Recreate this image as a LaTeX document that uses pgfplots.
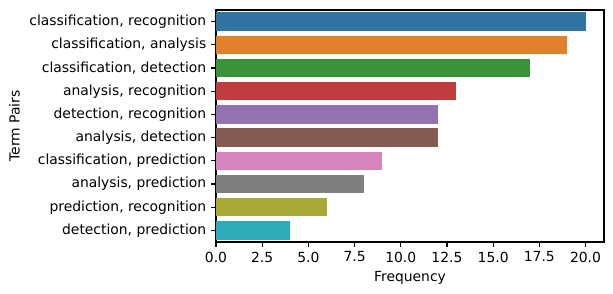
\documentclass[border=0pt]{standalone}
\usepackage{pgfplots}
\pgfplotsset{compat=1.18}
\usepackage{fontspec}
\setmainfont{DejaVu Sans}
\definecolor{c0}{HTML}{3274A1}
\definecolor{c1}{HTML}{E1812C}
\definecolor{c2}{HTML}{3A923A}
\definecolor{c3}{HTML}{C03D3E}
\definecolor{c4}{HTML}{9372B2}
\definecolor{c5}{HTML}{845B53}
\definecolor{c6}{HTML}{D684BD}
\definecolor{c7}{HTML}{7F7F7F}
\definecolor{c8}{HTML}{A9AA35}
\definecolor{c9}{HTML}{2EABB8}
\begin{document}
\begin{tikzpicture}
\useasboundingbox (-155.52bp,-37.44bp) rectangle (285.84bp,174.24bp);
\begin{axis}[
  at={(0,0)}, anchor=south west,
  scale only axis, width=279.36bp, height=167.04bp,
  xbar, bar shift=0pt, bar width=0.8,
  xmin=0, xmax=21,
  ymin=-0.5, ymax=9.5, y dir=reverse,
  ytick={0,...,9},
  yticklabels={{classification, recognition},{classification, analysis},{classification, detection},{analysis, recognition},{detection, recognition},{analysis, detection},{classification, prediction},{analysis, prediction},{prediction, recognition},{detection, prediction}},
  xtick={0,2.5,...,20},
  xticklabel style={/pgf/number format/.cd,fixed,fixed zerofill,precision=1},
  /pgf/number format/assume math mode=true,
  tick align=outside, xtick pos=bottom, ytick pos=left,
  major tick length=3.5bp,
  tick style={line width=0.8bp, black},
  axis line style={line width=0.8bp},
  ticklabel style={font=\fontsize{10bp}{12bp}\selectfont},
  label style={font=\fontsize{10bp}{12bp}\selectfont},
  xlabel={Frequency}, ylabel={Term Pairs},
  every axis plot/.append style={draw=none},
]
\addplot[fill=c0] coordinates {(20,0)};
\addplot[fill=c1] coordinates {(19,1)};
\addplot[fill=c2] coordinates {(17,2)};
\addplot[fill=c3] coordinates {(13,3)};
\addplot[fill=c4] coordinates {(12,4)};
\addplot[fill=c5] coordinates {(12,5)};
\addplot[fill=c6] coordinates {(9,6)};
\addplot[fill=c7] coordinates {(8,7)};
\addplot[fill=c8] coordinates {(6,8)};
\addplot[fill=c9] coordinates {(4,9)};
\end{axis}
\end{tikzpicture}
\end{document}
